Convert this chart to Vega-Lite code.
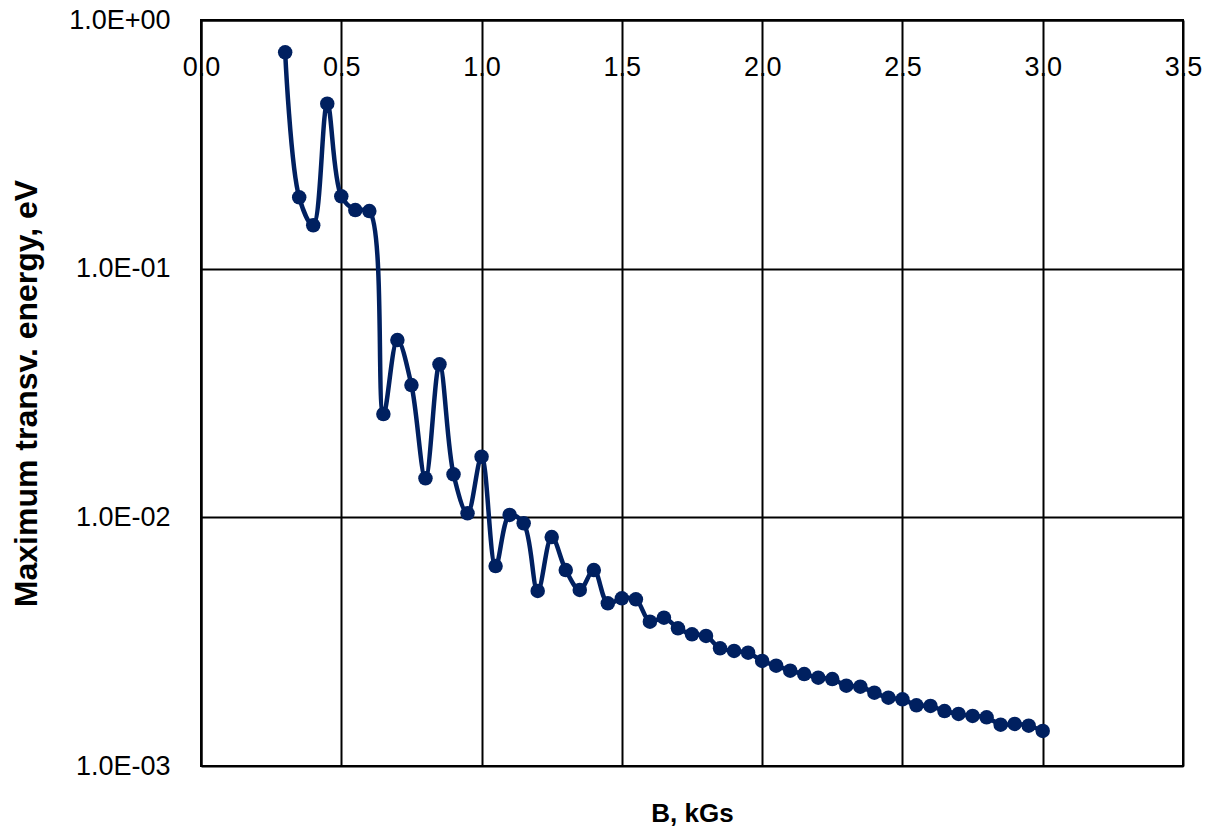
{
  "$schema": "https://vega.github.io/schema/vega-lite/v6.json",
  "width": 982,
  "height": 746,
  "autosize": {"type": "none"},
  "padding": {"left": 201, "top": 20, "right": 24, "bottom": 65},
  "background": "white",
  "config": {
    "view": {"stroke": "black", "strokeWidth": 2},
    "axis": {"labelFont": "Liberation Sans", "labelColor": "black", "titleColor": "black"}
  },
  "data": {"values": [
    {"B": 0.30, "E": 0.7413},
    {"B": 0.35, "E": 0.1936},
    {"B": 0.40, "E": 0.1494},
    {"B": 0.45, "E": 0.4607},
    {"B": 0.50, "E": 0.1954},
    {"B": 0.55, "E": 0.1721},
    {"B": 0.60, "E": 0.1705},
    {"B": 0.65, "E": 0.02603},
    {"B": 0.70, "E": 0.05165},
    {"B": 0.75, "E": 0.03405},
    {"B": 0.80, "E": 0.01436},
    {"B": 0.85, "E": 0.04124},
    {"B": 0.90, "E": 0.01490},
    {"B": 0.95, "E": 0.01038},
    {"B": 1.00, "E": 0.01753},
    {"B": 1.05, "E": 0.006372},
    {"B": 1.10, "E": 0.01022},
    {"B": 1.15, "E": 0.009463},
    {"B": 1.20, "E": 0.005057},
    {"B": 1.25, "E": 0.008335},
    {"B": 1.30, "E": 0.006140},
    {"B": 1.35, "E": 0.005103},
    {"B": 1.40, "E": 0.006140},
    {"B": 1.45, "E": 0.004511},
    {"B": 1.50, "E": 0.004725},
    {"B": 1.55, "E": 0.004681},
    {"B": 1.60, "E": 0.003805},
    {"B": 1.65, "E": 0.003948},
    {"B": 1.70, "E": 0.003580},
    {"B": 1.75, "E": 0.003386},
    {"B": 1.80, "E": 0.003333},
    {"B": 1.85, "E": 0.002974},
    {"B": 1.90, "E": 0.002901},
    {"B": 1.95, "E": 0.002855},
    {"B": 2.00, "E": 0.002644},
    {"B": 2.05, "E": 0.002532},
    {"B": 2.10, "E": 0.002417},
    {"B": 2.15, "E": 0.002344},
    {"B": 2.20, "E": 0.002265},
    {"B": 2.25, "E": 0.002238},
    {"B": 2.30, "E": 0.002104},
    {"B": 2.35, "E": 0.002084},
    {"B": 2.40, "E": 0.001971},
    {"B": 2.45, "E": 0.001882},
    {"B": 2.50, "E": 0.001855},
    {"B": 2.55, "E": 0.001754},
    {"B": 2.60, "E": 0.001743},
    {"B": 2.65, "E": 0.001664},
    {"B": 2.70, "E": 0.001619},
    {"B": 2.75, "E": 0.001589},
    {"B": 2.80, "E": 0.001570},
    {"B": 2.85, "E": 0.001466},
    {"B": 2.90, "E": 0.001476},
    {"B": 2.95, "E": 0.001453},
    {"B": 3.00, "E": 0.001383}
  ]},
  "layer": [
    {
      "mark": {"type": "line", "color": "#002060", "strokeWidth": 4.5, "interpolate": "catmull-rom"},
      "encoding": {
        "x": {
          "field": "B", "type": "quantitative",
          "scale": {"domain": [0, 3.5], "nice": false, "zero": false},
          "axis": {
            "orient": "top", "title": null, "values": [0, 0.5, 1, 1.5, 2, 2.5, 3, 3.5],
            "format": ".1f", "labelFontSize": 27, "labelFlush": false, "labelOverlap": false,
            "ticks": false, "labelBaseline": "alphabetic", "labelPadding": -55,
            "domain": true, "domainColor": "black", "domainWidth": 2,
            "grid": true, "gridColor": "black", "gridWidth": 2, "gridOpacity": 1
          }
        },
        "y": {
          "field": "E", "type": "quantitative",
          "scale": {"type": "log", "domain": [0.001, 1], "nice": false},
          "axis": {
            "title": "Maximum transv. energy, eV", "titleFont": "Liberation Sans", "titleFontWeight": "bold",
            "titleFontSize": 32, "titlePadding": 25,
            "values": [1, 0.1, 0.01, 0.001],
            "labelExpr": "datum.value >= 1 ? '1.0E+00' : '1.0E-0' + round(-log(datum.value)/LN10)",
            "labelFontSize": 27, "labelFlush": false, "labelOverlap": false, "labelPadding": 31,
            "ticks": false, "domain": true, "domainColor": "black", "domainWidth": 2,
            "grid": true, "gridColor": "black", "gridWidth": 2, "gridOpacity": 1
          }
        }
      }
    },
    {
      "mark": {"type": "point", "filled": true, "color": "#002060", "size": 210, "opacity": 1},
      "encoding": {
        "x": {
          "field": "B", "type": "quantitative",
          "axis": {
            "orient": "bottom", "title": "B, kGs", "titleFont": "Liberation Sans", "titleFontWeight": "bold",
            "titleFontSize": 26, "titlePadding": 34, "labels": false, "ticks": false, "domain": false, "grid": false
          }
        },
        "y": {
          "field": "E", "type": "quantitative",
          "axis": {
            "title": "Maximum transv. energy, eV", "titleFont": "Liberation Sans", "titleFontWeight": "bold",
            "titleFontSize": 32, "titlePadding": 25,
            "values": [1, 0.1, 0.01, 0.001],
            "labelExpr": "datum.value >= 1 ? '1.0E+00' : '1.0E-0' + round(-log(datum.value)/LN10)",
            "labelFontSize": 27, "labelFlush": false, "labelOverlap": false, "labelPadding": 31,
            "ticks": false, "domain": true, "domainColor": "black", "domainWidth": 2,
            "grid": true, "gridColor": "black", "gridWidth": 2, "gridOpacity": 1
          }
        }
      }
    }
  ],
  "resolve": {"axis": {"x": "independent"}}
}
